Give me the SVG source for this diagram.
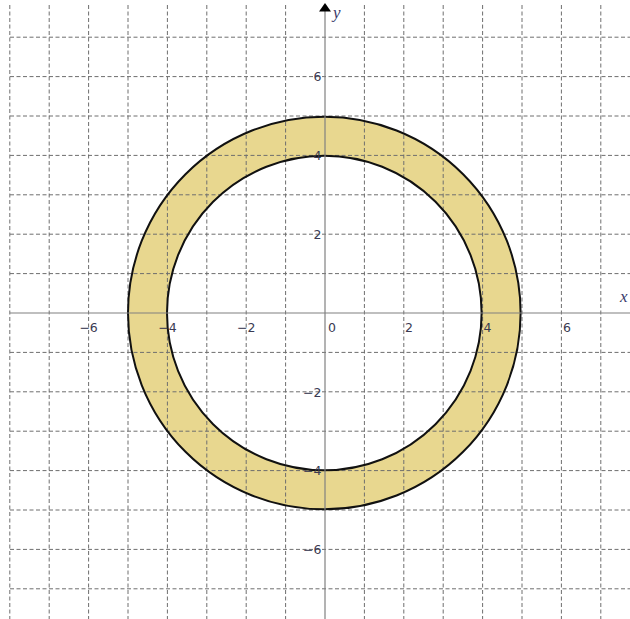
<svg xmlns="http://www.w3.org/2000/svg" width="630" height="619" viewBox="0 0 630 619">
<style>
.grid line{stroke:#6e6e6e;stroke-width:1;stroke-dasharray:4 2.5}
.axis{stroke:#808080;stroke-width:1.2;fill:none}
.lbl{font-family:"DejaVu Sans",Verdana,sans-serif;font-size:12.5px;fill:#3a3a52}
.ax{font-family:"Liberation Serif","Times New Roman",serif;font-size:17px;font-style:italic;fill:#3a3a6a}
.ring{fill:none;stroke:#111;stroke-width:2}
</style>
<rect width="630" height="619" fill="#fff"/>
<g id="annulus">
<path d="M128,313 a196.3,196.3 0 1,0 392.6,0 a196.3,196.3 0 1,0 -392.6,0 Z M167,313 a157.3,157.3 0 1,0 314.6,0 a157.3,157.3 0 1,0 -314.6,0 Z" fill="#E8D78F" fill-rule="evenodd"/>
</g>
<g id="grid" class="grid">
<line x1="9.8" y1="5" x2="9.8" y2="619"/>
<line x1="49.2" y1="5" x2="49.2" y2="619"/>
<line x1="88.6" y1="5" x2="88.6" y2="619"/>
<line x1="128" y1="5" x2="128" y2="619"/>
<line x1="167.4" y1="5" x2="167.4" y2="619"/>
<line x1="206.8" y1="5" x2="206.8" y2="619"/>
<line x1="246.2" y1="5" x2="246.2" y2="619"/>
<line x1="285.6" y1="5" x2="285.6" y2="619"/>
<line x1="364.4" y1="5" x2="364.4" y2="619"/>
<line x1="403.8" y1="5" x2="403.8" y2="619"/>
<line x1="443.2" y1="5" x2="443.2" y2="619"/>
<line x1="482.6" y1="5" x2="482.6" y2="619"/>
<line x1="522" y1="5" x2="522" y2="619"/>
<line x1="561.4" y1="5" x2="561.4" y2="619"/>
<line x1="600.8" y1="5" x2="600.8" y2="619"/>
<line x1="10" y1="37.2" x2="630" y2="37.2"/>
<line x1="10" y1="76.6" x2="630" y2="76.6"/>
<line x1="10" y1="116" x2="630" y2="116"/>
<line x1="10" y1="155.4" x2="630" y2="155.4"/>
<line x1="10" y1="194.8" x2="630" y2="194.8"/>
<line x1="10" y1="234.2" x2="630" y2="234.2"/>
<line x1="10" y1="273.6" x2="630" y2="273.6"/>
<line x1="10" y1="352.4" x2="630" y2="352.4"/>
<line x1="10" y1="391.8" x2="630" y2="391.8"/>
<line x1="10" y1="431.2" x2="630" y2="431.2"/>
<line x1="10" y1="470.6" x2="630" y2="470.6"/>
<line x1="10" y1="510" x2="630" y2="510"/>
<line x1="10" y1="549.4" x2="630" y2="549.4"/>
<line x1="10" y1="588.8" x2="630" y2="588.8"/>
</g>
<g id="circles">
<circle class="ring" cx="324.3" cy="313" r="196.3"/>
<circle class="ring" cx="324.3" cy="313" r="157.3"/>
</g>
<g id="axes">
<line class="axis" x1="10" y1="313" x2="630" y2="313"/>
<line class="axis" x1="325" y1="10" x2="325" y2="619"/>
<polygon points="325,3 319,11.5 331,11.5" fill="#000"/>
<text class="ax" x="333" y="18">y</text>
<text class="ax" x="620" y="302">x</text>
</g>
<g id="labels" class="lbl">
<text x="88.6" y="331.5" text-anchor="middle">−6</text>
<text x="167.4" y="331.5" text-anchor="middle">−4</text>
<text x="246.2" y="331.5" text-anchor="middle">−2</text>
<text x="328" y="331.5">0</text>
<text x="405" y="331.5">2</text>
<text x="483.5" y="331.5">4</text>
<text x="563" y="331.5">6</text>
<text x="321.5" y="81.3" text-anchor="end">6</text>
<text x="321.5" y="160" text-anchor="end">4</text>
<text x="321.5" y="238.8" text-anchor="end">2</text>
<text x="321.5" y="396.5" text-anchor="end">−2</text>
<text x="321.5" y="475.2" text-anchor="end">−4</text>
<text x="321.5" y="554" text-anchor="end">−6</text>
</g>
</svg>
